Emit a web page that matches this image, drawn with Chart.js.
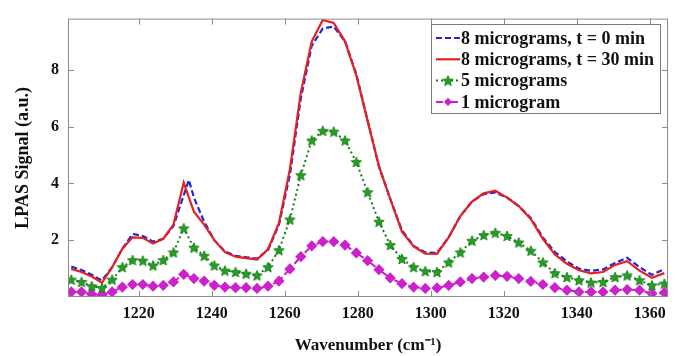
<!DOCTYPE html>
<html><head><meta charset="utf-8">
<script src="https://cdn.jsdelivr.net/npm/chart.js@4.4.1/dist/chart.umd.min.js"></script>
<style>html,body{margin:0;padding:0;background:#fff;}#wrap{width:683px;height:356px;}</style>
</head><body><div id="wrap"><canvas id="c" width="683" height="356"></canvas></div>
<script>
const wavenumbers = [1201.5,1204.3,1207.1,1209.9,1212.7,1215.5,1218.3,1221.1,1223.9,1226.7,1229.5,1232.3,1235.1,1237.9,1240.7,1243.6,1246.5,1249.4,1252.4,1255.4,1258.4,1261.4,1264.4,1267.4,1270.4,1273.4,1276.5,1279.6,1282.7,1285.8,1288.9,1292.1,1295.3,1298.5,1301.7,1304.9,1308.1,1311.3,1314.5,1317.7,1320.9,1324.1,1327.4,1330.7,1334.0,1337.3,1340.6,1343.9,1347.2,1350.5,1353.8,1357.2,1360.6,1364.0];
const wavenumbersT0 = [1201.5,1204.3,1207.1,1209.9,1212.7,1215.5,1218.3,1221.1,1223.9,1226.7,1229.5,1233.7,1235.1,1237.9,1240.7,1243.6,1246.5,1249.4,1252.4,1255.4,1258.4,1261.4,1264.4,1267.4,1270.4,1273.4,1276.5,1279.6,1282.7,1285.8,1288.9,1292.1,1295.3,1298.5,1301.7,1304.9,1308.1,1311.3,1314.5,1317.7,1320.9,1324.1,1327.4,1330.7,1334.0,1337.3,1340.6,1343.9,1347.2,1350.5,1353.8,1357.2,1360.6,1364.0];
const signal8ugT0 = [1.07,0.95,0.78,0.58,1.05,1.70,2.22,2.15,1.95,2.05,2.50,4.12,3.50,2.65,2.00,1.60,1.45,1.40,1.35,1.65,2.55,4.30,7.00,8.85,9.45,9.52,9.00,7.85,6.20,4.60,3.45,2.35,1.80,1.57,1.55,2.10,2.85,3.36,3.62,3.68,3.50,3.20,2.78,2.10,1.58,1.25,1.00,0.92,0.97,1.20,1.38,1.05,0.78,0.98];
const signal8ugT30 = [0.99,0.88,0.72,0.50,1.05,1.70,2.10,2.08,1.88,2.05,2.55,4.03,3.00,2.55,2.00,1.58,1.42,1.37,1.32,1.68,2.60,4.50,7.20,9.00,9.75,9.65,9.00,7.80,6.20,4.60,3.45,2.30,1.78,1.53,1.52,2.10,2.85,3.36,3.65,3.74,3.50,3.20,2.75,2.05,1.50,1.17,0.94,0.83,0.88,1.13,1.26,0.93,0.68,0.84];
const signal5ug = [0.61,0.53,0.38,0.32,0.61,1.05,1.30,1.28,1.11,1.30,1.57,2.42,1.74,1.45,1.11,0.93,0.88,0.82,0.76,1.05,1.65,2.73,4.29,5.51,5.85,5.82,5.51,4.75,3.69,2.65,1.83,1.34,1.05,0.91,0.88,1.22,1.57,1.98,2.18,2.26,2.15,1.92,1.63,1.22,0.84,0.70,0.59,0.51,0.53,0.70,0.76,0.59,0.41,0.47];
const signal1ug = [0.18,0.18,0.10,0.07,0.18,0.35,0.44,0.44,0.38,0.41,0.53,0.80,0.65,0.56,0.41,0.35,0.33,0.33,0.30,0.38,0.56,0.99,1.42,1.80,1.95,1.95,1.83,1.55,1.28,0.96,0.67,0.47,0.35,0.30,0.32,0.41,0.53,0.65,0.70,0.76,0.73,0.65,0.55,0.44,0.33,0.24,0.18,0.18,0.18,0.24,0.26,0.24,0.12,0.15];
const seriesLabels = ['8 micrograms, t = 0 min','8 micrograms, t = 30 min','5 micrograms','1 microgram'];
const xTicks = [1220,1240,1260,1280,1300,1320,1340,1360];
const yTicks = [2,4,6,8];

function makeStar(size, fill, stroke){
  const c=document.createElement('canvas'); c.width=c.height=size;
  const g=c.getContext('2d'); const cx=size/2, cy=size/2+0.5, R=size/2-0.5, r=R*0.45;
  g.beginPath();
  for(let i=0;i<10;i++){const a=-Math.PI/2+i*Math.PI/5; const rad=i%2?r:R; g.lineTo(cx+rad*Math.cos(a), cy+rad*Math.sin(a));}
  g.closePath(); g.fillStyle=fill; g.fill(); g.strokeStyle=stroke; g.lineWidth=0.8; g.stroke();
  return c;
}
const star = makeStar(12,'#22a022','#137313');
const FONT = "'Liberation Serif','Times New Roman',serif";
const toXY = (xs, ys) => xs.map((w,i)=>({x:w,y:ys[i]}));

const datasets = [
  {label:seriesLabels[0], data:toXY(wavenumbersT0,signal8ugT0), borderColor:'#2424dc', borderWidth:2.2, borderDash:[6,3], pointRadius:0, order:2},
  {label:seriesLabels[1], data:toXY(wavenumbers,signal8ugT30), borderColor:'#e42020', borderWidth:2.2, pointRadius:0, order:1},
  {label:seriesLabels[2], data:toXY(wavenumbers,signal5ug), borderColor:'#1c7a1c', borderWidth:2, borderDash:[2,3], pointStyle:star, pointRadius:6, order:3},
  {label:seriesLabels[3], data:toXY(wavenumbers,signal1ug), borderColor:'#c81ec8', borderWidth:2, borderDash:[7,3,2,3], pointStyle:'rectRot', pointRadius:4.2, pointBackgroundColor:'#cc22cc', pointBorderColor:'#cc22cc', order:4}
];

const framePlugin = {
  id:'frame',
  afterDatasetsDraw(chart){
    const {ctx, chartArea:a, scales:{x,y}} = chart;
    ctx.save(); ctx.strokeStyle='#8c8c8c'; ctx.lineWidth=1; ctx.setLineDash([]);
    ctx.strokeRect(a.left+0.5, a.top+0.5, a.right-a.left-1, a.bottom-a.top-1);
    ctx.beginPath();
    x.ticks.forEach(t=>{const p=Math.round(x.getPixelForValue(t.value))+0.5; ctx.moveTo(p,a.bottom); ctx.lineTo(p,a.bottom-6); ctx.moveTo(p,a.top); ctx.lineTo(p,a.top+6);});
    y.ticks.forEach(t=>{const p=Math.round(y.getPixelForValue(t.value))+0.5; ctx.moveTo(a.left,p); ctx.lineTo(a.left+6,p); ctx.moveTo(a.right,p); ctx.lineTo(a.right-6,p);});
    ctx.stroke(); ctx.restore();
  }
};
const legendPlugin = {
  id:'boxLegend',
  afterDraw(chart){
    const ctx=chart.ctx; const bx=431, by=24, bw=229, bh=89; const rowH=21.3;
    ctx.save(); ctx.setLineDash([]);
    ctx.fillStyle='#fff'; ctx.fillRect(bx,by,bw,bh);
    ctx.strokeStyle='#7a7a7a'; ctx.lineWidth=1; ctx.strokeRect(bx+0.5,by+0.5,bw,bh);
    chart.data.datasets.forEach((d,i)=>{
      const cy = by+14+i*rowH, x0=bx+5, x1=bx+29;
      ctx.save(); ctx.strokeStyle=d.borderColor; ctx.lineWidth=d.borderWidth; ctx.setLineDash(d.borderDash||[]);
      ctx.beginPath(); ctx.moveTo(x0,cy); ctx.lineTo(x1,cy); ctx.stroke(); ctx.restore();
      if(d.pointRadius>0){
        if(d.pointStyle==='rectRot'){ctx.save();ctx.fillStyle=d.pointBackgroundColor;ctx.beginPath();const r=d.pointRadius,cx=(x0+x1)/2;ctx.moveTo(cx,cy-r);ctx.lineTo(cx+r,cy);ctx.lineTo(cx,cy+r);ctx.lineTo(cx-r,cy);ctx.closePath();ctx.fill();ctx.restore();}
        else Chart.helpers.drawPoint(ctx,{pointStyle:d.pointStyle,radius:d.pointRadius,rotation:0,borderWidth:1}, (x0+x1)/2, cy);
      }
      ctx.fillStyle='#111'; ctx.font="bold 18px "+FONT; ctx.textBaseline='middle'; ctx.textAlign='left';
      ctx.fillText(d.label, x1+1, cy+1);
    });
    ctx.restore();
  }
};

new Chart(document.getElementById('c'), {
  type:'line',
  data:{datasets},
  options:{
    responsive:false, animation:false, devicePixelRatio:1,
    events:[],
    layout:{padding:{top:14,right:15,left:0,bottom:0}},
    elements:{line:{tension:0,fill:false}},
    plugins:{legend:{display:false}, tooltip:{enabled:false}},
    scales:{
      x:{type:'linear', min:1200.6, max:1365,
        grid:{display:false, drawTicks:false}, border:{display:false},
        afterBuildTicks:s=>{s.ticks=xTicks.map(v=>({value:v}));},
        afterFit:s=>{s.height=59;},
        ticks:{color:'#111', font:{family:FONT, size:16, weight:'bold'}, padding:7, maxRotation:0, callback:v=>String(v)},
        title:{display:true, text:'Wavenumber (cm\u207B\u00B9)', color:'#111', font:{family:FONT, size:17, weight:'bold'}, padding:{top:0,bottom:0}}
      },
      y:{type:'linear', min:0, max:9.8,
        grid:{display:false, drawTicks:false}, border:{display:false},
        afterBuildTicks:s=>{s.ticks=yTicks.map(v=>({value:v}));},
        afterFit:s=>{s.width=68;},
        ticks:{color:'#111', font:{family:FONT, size:16, weight:'bold'}, padding:9, callback:v=>String(v)},
        title:{display:true, text:'LPAS Signal (a.u.)', color:'#111', font:{family:FONT, size:18, weight:'bold'}, padding:{top:13,bottom:0}}
      }
    }
  },
  plugins:[framePlugin, legendPlugin]
});
</script></body></html>
